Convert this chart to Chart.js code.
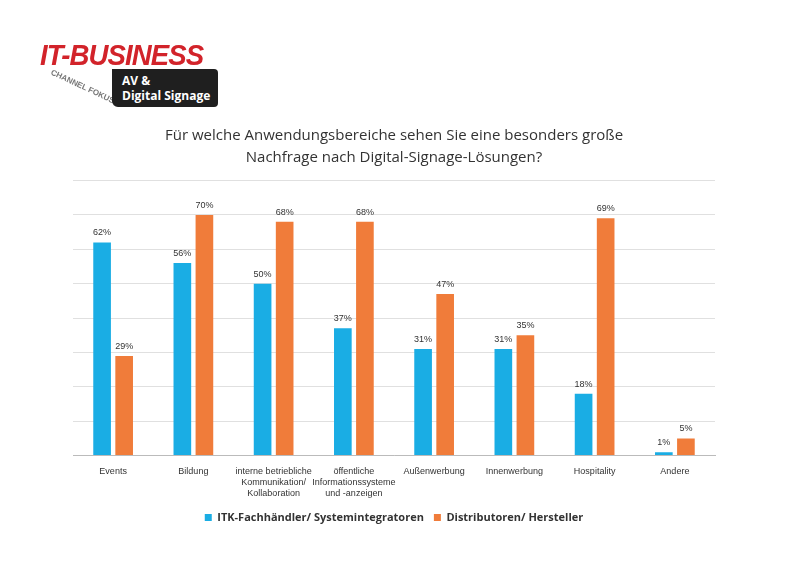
<!DOCTYPE html>
<html><head><meta charset="utf-8">
<script src="https://cdn.jsdelivr.net/npm/chart.js@4"></script>
<style>
body{margin:0;background:#fff;}
#wrap{position:relative;width:800px;height:565px;}
#logo1{position:absolute;left:40px;top:38px;font:italic bold 30px "Liberation Sans",Arial;color:#d2232a;letter-spacing:-1px;transform:scaleX(0.92);transform-origin:left;}
#logo2{position:absolute;left:112px;top:69px;width:106px;height:38px;background:#1f1f1f;border-radius:0 4px 4px 6px;color:#fff;font:bold 12px "Open Sans",Arial;line-height:15px;padding:4px 0 0 10px;box-sizing:border-box;white-space:nowrap;}
#logo3{position:absolute;left:48px;top:82px;font:bold 8px Arial;color:#777;transform:rotate(25deg);}
</style></head><body>
<div id="wrap"><canvas id="c" width="800" height="565"></canvas>
<div id="logo1">IT-BUSINESS</div>
<div id="logo3">CHANNEL FOKUS</div>
<div id="logo2">AV &amp;<br>Digital Signage</div>
</div>
<script>
const categories=["Events","Bildung",["interne betriebliche","Kommunikation/","Kollaboration"],["öffentliche","Informationssysteme","und -anzeigen"],"Außenwerbung","Innenwerbung","Hospitality","Andere"];
const seriesITK=[62,56,50,37,31,31,18,1];
const seriesDist=[29,70,68,68,47,35,69,5];
const seriesNames=["ITK-Fachhändler/ Systemintegratoren","Distributoren/ Hersteller"];
const labelPlugin={id:'lbl',afterDatasetsDraw(ch){const c=ch.ctx;c.save();c.font='9px "Liberation Sans",Arial';c.fillStyle='#333';c.textAlign='center';c.textBaseline='bottom';
ch.data.datasets.forEach((d,i)=>{ch.getDatasetMeta(i).data.forEach((b,j)=>{c.fillText(d.data[j]+'%',b.x,b.y-5);});});c.restore();}};
new Chart(document.getElementById('c'),{type:'bar',
data:{labels:categories,datasets:[
{label:seriesNames[0],data:seriesITK,backgroundColor:'#1aade4'},
{label:seriesNames[1],data:seriesDist,backgroundColor:'#f07c3a'}]},
options:{responsive:false,animation:false,
layout:{padding:{left:73,right:85,top:125,bottom:32}},
datasets:{bar:{categoryPercentage:0.55,barPercentage:0.8}},
plugins:{tooltip:{enabled:false},
title:{display:true,text:["Für welche Anwendungsbereiche sehen Sie eine besonders große","Nachfrage nach Digital-Signage-Lösungen?"],font:{size:15,weight:'normal',family:'"Open Sans",Arial',lineHeight:1.45},color:'#333',padding:{top:0,bottom:12}},
legend:{position:'bottom',labels:{boxWidth:7,boxHeight:7,font:{size:11,weight:'bold',family:'"Open Sans",Arial'},color:'#333',padding:10}}},
scales:{y:{min:0,max:80,ticks:{display:false,stepSize:10},grid:{color:'#e0e0e0',drawTicks:false},border:{display:false}},
x:{grid:{display:false},border:{color:'#bbb'},ticks:{font:{size:9,family:'"Liberation Sans",Arial'},color:'#333',maxRotation:0,autoSkip:false}}}},
plugins:[labelPlugin]});
</script></body></html>
